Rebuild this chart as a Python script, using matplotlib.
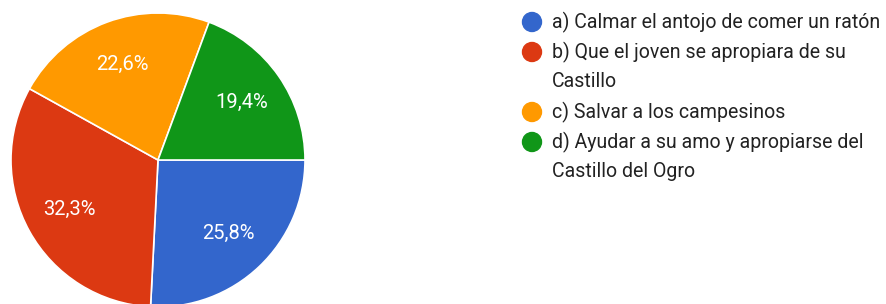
import matplotlib.pyplot as plt
from matplotlib.patches import Circle

# data
labels = ["a) Calmar el antojo de comer un ratón",
          "b) Que el joven se apropiara de su\nCastillo",
          "c) Salvar a los campesinos",
          "d) Ayudar a su amo y apropiarse del\nCastillo del Ogro"]
counts = [8, 10, 7, 6]
colors = ["#3366cc", "#dc3912", "#ff9900", "#109618"]

plt.rcParams['font.family'] = ['Roboto', 'DejaVu Sans']

W, H = 887, 304
fig = plt.figure(figsize=(W / 100, H / 100), dpi=100)
ax = fig.add_axes([0, 0, 1, 1])

cx, cy, r = 158, H - 160, 147
wedges, texts, autotexts = ax.pie(
    counts, colors=colors, startangle=0, counterclock=False,
    center=(cx, cy), radius=r, frame=True,
    autopct=lambda p: f"{p:.1f}%".replace(".", ","), pctdistance=0.69,
    wedgeprops=dict(edgecolor="white", linewidth=1.2),
    textprops=dict(color="white", fontsize=14.5))

ax.set_xlim(0, W)
ax.set_ylim(0, H)
ax.set_aspect("equal")
ax.axis("off")

# legend drawn by hand, Google Forms style
lx, step = 532, 30
y = H - 22
legend_texts = []
for lab, col in zip(labels, colors):
    ax.add_patch(Circle((lx, y), 9.5, color=col, zorder=3))
    lines = lab.split("\n")
    for k, line in enumerate(lines):
        t = ax.text(lx + 20, y - k * step, line, fontsize=14, color="#222222",
                    va="center", ha="left")
        legend_texts.append(t)
    y -= step * len(lines)

# fit the longest legend line to the width seen in the reference (~330 px)
rend = fig.canvas.get_renderer()
w0 = legend_texts[0].get_window_extent(rend).width
fs = 14 * 330 / w0
for t in legend_texts:
    t.set_fontsize(fs)

fig.savefig("out.png", dpi=100)
